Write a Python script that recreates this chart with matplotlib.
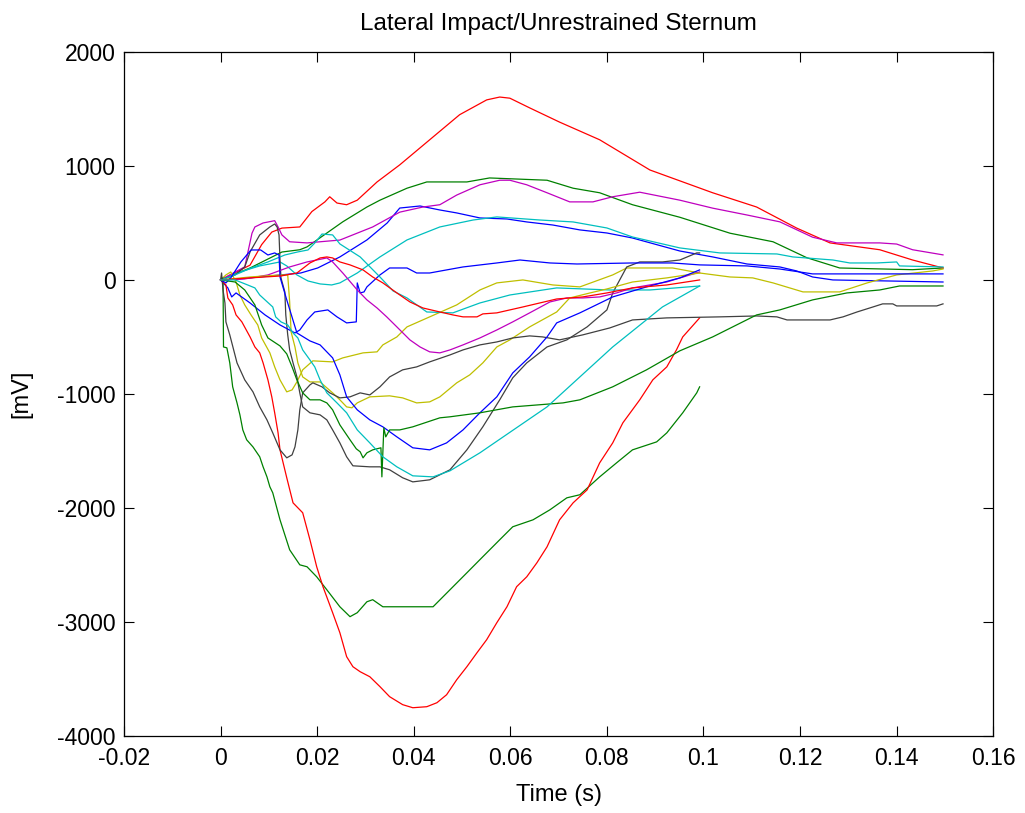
import matplotlib
matplotlib.use("Agg")
import matplotlib.pyplot as plt
from matplotlib.ticker import FixedLocator, FuncFormatter

plt.rcParams['font.family'] = ['Liberation Sans', 'DejaVu Sans']
plt.rcParams['axes.unicode_minus'] = False

# sternum accelerometer channels, time in s, signal in mV
t_blue_up = [0, 0.004, 0.0081, 0.0125, 0.0166, 0.0201, 0.0247, 0.0303, 0.0345, 0.0371, 0.0413,
             0.0454, 0.0489, 0.0537, 0.0593, 0.0634, 0.0688, 0.0744, 0.08, 0.0853, 0.0951, 0.1019,
             0.109, 0.1158, 0.1193, 0.1226, 0.1268, 0.1496]
v_blue_up = [0, 9, 26, 44, 61, 105, 202, 351, 500, 631, 649, 614, 588, 544, 535, 509, 482, 439,
             412, 368, 254, 202, 140, 114, 79, 26, 0, -18]

t_green_up = [0, 0.0061, 0.0127, 0.0164, 0.0179, 0.0206, 0.0253, 0.0303, 0.033, 0.0386, 0.0427,
              0.051, 0.0557, 0.0676, 0.073, 0.0785, 0.0853, 0.0951, 0.1055, 0.1144, 0.1214, 0.1282,
              0.1433, 0.1496]
v_green_up = [0, 105, 245, 265, 290, 370, 510, 640, 700, 805, 860, 860, 895, 875, 805, 765, 660,
              550, 410, 335, 195, 105, 90, 105]

t_red_up = [0, 0.0061, 0.0085, 0.0106, 0.0127, 0.0164, 0.0189, 0.0216, 0.0226, 0.0241, 0.0261,
            0.0283, 0.0324, 0.0371, 0.0433, 0.0495, 0.0551, 0.0578, 0.0599, 0.064, 0.0702, 0.0785,
            0.0889, 0.1019, 0.111, 0.1193, 0.1262, 0.1365, 0.1433, 0.1496]
v_red_up = [0, 130, 310, 420, 455, 465, 600, 685, 730, 675, 660, 700, 860, 1010, 1230, 1450, 1580,
            1605, 1595, 1510, 1385, 1230, 965, 765, 640, 455, 325, 265, 175, 105]

t_cyan_up = [0, 0.004, 0.0081, 0.0123, 0.0137, 0.0158, 0.0181, 0.0206, 0.023, 0.0247, 0.0283,
             0.033, 0.0386, 0.0454, 0.0523, 0.0572, 0.0661, 0.073, 0.08, 0.0853, 0.0951, 0.1034,
             0.1152, 0.1185, 0.1268, 0.1303, 0.1359, 0.14, 0.1406, 0.1496]
v_cyan_up = [0, 70, 123, 158, 123, 44, -9, -35, -44, -26, 61, 202, 351, 465, 526, 553, 526, 509,
             456, 377, 281, 237, 228, 202, 175, 149, 149, 158, 123, 114]

t_mag_up = [0, 0.005, 0.0065, 0.0071, 0.0088, 0.0112, 0.0119, 0.0127, 0.0143, 0.0179, 0.0206,
            0.0247, 0.0315, 0.0371, 0.0419, 0.0454, 0.0489, 0.0537, 0.0578, 0.0599, 0.0634, 0.0676,
            0.0723, 0.0771, 0.0812, 0.0868, 0.0951, 0.1019, 0.109, 0.1158, 0.1226, 0.1276, 0.1365,
            0.14, 0.1433, 0.1496]
v_mag_up = [0, 115, 410, 465, 500, 520, 465, 395, 335, 325, 335, 350, 465, 595, 640, 660, 745, 835,
            875, 875, 835, 765, 685, 685, 730, 770, 700, 630, 570, 510, 375, 325, 325, 315, 265, 220]

t_yel_1 = [0, 0.0011, 0.0021, 0.0032, 0.004, 0.005, 0.0063, 0.0077, 0.0085, 0.0102, 0.0112,
           0.0123, 0.0137, 0.0148, 0.0158, 0.017, 0.0191, 0.0232, 0.0253, 0.0295, 0.0324, 0.0336,
           0.0365, 0.0386, 0.0433, 0.0489, 0.0537, 0.0572, 0.0626, 0.0688, 0.0744, 0.0812, 0.0841,
           0.0936, 0.0992, 0.1055, 0.1102, 0.1144, 0.1206, 0.1282, 0.1339, 0.14, 0.1475, 0.1496]
v_yel_1 = [0, 44, 70, -18, -132, -219, -307, -395, -509, -640, -763, -877, -982, -965, -895, -789,
           -710, -719, -684, -640, -631, -570, -500, -412, -324, -219, -88, -26, 0, -44, -61, 44,
           105, 105, 61, 26, 18, -26, -105, -105, -26, 44, 79, 96]

t_gray_1 = [0, 0.003, 0.005, 0.0061, 0.0081, 0.0102, 0.0112, 0.0117, 0.0121, 0.0123, 0.0125,
            0.0133, 0.0135, 0.0139, 0.0143, 0.015, 0.0158, 0.0164, 0.017, 0.0185, 0.0206, 0.022,
            0.0232, 0.0247, 0.0261, 0.0274, 0.0309, 0.033, 0.035, 0.0377, 0.0398, 0.0433, 0.0475,
            0.051, 0.0543, 0.0578, 0.0605, 0.0634, 0.0676, 0.0717, 0.0759, 0.08, 0.0812, 0.0841,
            0.0868, 0.0915, 0.0951, 0.0986, 0.0992]
v_gray_1 = [0, 44, 114, 246, 395, 465, 491, 465, 395, 175, 18, -105, -307, -482, -614, -728, -851,
            -991, -1114, -1166, -1184, -1228, -1316, -1430, -1552, -1631, -1640, -1640, -1666,
            -1736, -1772, -1754, -1666, -1491, -1289, -1052, -859, -728, -588, -526, -412, -263,
            -114, 114, 158, 158, 175, 237, 237]

t_blue_mid = [0, 0.0015, 0.0023, 0.0032, 0.0061, 0.0092, 0.0123, 0.0154, 0.0164, 0.0179, 0.0195,
              0.0222, 0.0241, 0.0261, 0.0281, 0.0283, 0.0289, 0.0297, 0.0303, 0.033, 0.035, 0.0386,
              0.0406, 0.0433, 0.0468, 0.0502, 0.0572, 0.062, 0.0682, 0.0738, 0.0853, 0.0936,
              0.0992, 0.109, 0.1158, 0.1226, 0.1496]
v_blue_mid = [0, -70, -149, -114, -202, -307, -395, -465, -439, -351, -281, -263, -324, -377, -368,
              -26, -114, -105, -61, 44, 105, 105, 61, 61, 88, 114, 149, 175, 149, 140, 149, 149,
              132, 123, 96, 53, 53]

t_green_deep = [0, 0.0005, 0.0006, 0.0013, 0.0019, 0.0025, 0.0034, 0.004, 0.0046, 0.0054, 0.0067,
                0.0081, 0.0088, 0.0096, 0.0102, 0.0108, 0.0123, 0.0143, 0.0164, 0.0179, 0.0199,
                0.022, 0.0247, 0.0268, 0.0283, 0.0303, 0.0315, 0.0336, 0.044, 0.0475, 0.051,
                0.0543, 0.0578, 0.0605, 0.0647, 0.0682, 0.0717, 0.0744, 0.0785, 0.082, 0.0853,
                0.0903, 0.0924, 0.0957, 0.0986, 0.0992]
v_green_deep = [0, 18, -588, -596, -728, -938, -1079, -1184, -1316, -1403, -1465, -1552, -1640,
                -1728, -1815, -1868, -2105, -2368, -2500, -2517, -2605, -2719, -2868, -2955, -2920,
                -2824, -2806, -2868, -2868, -2719, -2570, -2429, -2280, -2166, -2105, -2017, -1912,
                -1885, -1728, -1605, -1491, -1421, -1342, -1166, -991, -938]

t_red_deep = [0, 0.0011, 0.0015, 0.0025, 0.0032, 0.0044, 0.0061, 0.0071, 0.0081, 0.0088, 0.0098,
              0.0106, 0.0112, 0.0119, 0.0123, 0.0137, 0.015, 0.017, 0.0185, 0.0199, 0.0212,
              0.0232, 0.0247, 0.0261, 0.0274, 0.0289, 0.0309, 0.033, 0.035, 0.0377, 0.0398,
              0.0427, 0.0448, 0.0468, 0.0489, 0.051, 0.0531, 0.0551, 0.0572, 0.0593, 0.0613,
              0.0634, 0.0655, 0.0676, 0.0702, 0.073, 0.0759, 0.0785, 0.0812, 0.0833, 0.0868,
              0.0895, 0.0924, 0.0944, 0.0957, 0.0992]
v_red_deep = [0, -44, -158, -219, -307, -368, -500, -588, -640, -728, -877, -1026, -1166, -1342,
              -1491, -1736, -1956, -2043, -2280, -2517, -2692, -2920, -3096, -3306, -3394, -3438,
              -3482, -3569, -3657, -3727, -3754, -3745, -3710, -3640, -3508, -3394, -3271, -3157,
              -3008, -2868, -2692, -2605, -2482, -2342, -2105, -1956, -1842, -1605, -1430, -1254,
              -1052, -877, -763, -614, -500, -333]

t_cyan_mid = [0, 0.003, 0.0063, 0.0098, 0.0133, 0.016, 0.0181, 0.0195, 0.021, 0.0232, 0.0247,
              0.0289, 0.033, 0.0357, 0.0386, 0.0427, 0.0481, 0.0537, 0.0599, 0.0696, 0.0806,
              0.0889, 0.0992]
v_cyan_mid = [0, 44, 105, 158, 219, 246, 263, 324, 403, 395, 316, 202, 26, -96, -158, -281, -289,
              -202, -132, -70, -88, -88, -53]

t_mag_2 = [0, 0.005, 0.0098, 0.0143, 0.0179, 0.0199, 0.022, 0.0232, 0.0253, 0.0283, 0.0303,
           0.0324, 0.0344, 0.0365, 0.0392, 0.0413, 0.0433, 0.0454, 0.0475, 0.0502, 0.0537, 0.0572,
           0.0605, 0.064, 0.0682, 0.0717, 0.075, 0.0785, 0.082, 0.0853, 0.0924, 0.0992]
v_mag_2 = [0, 9, 44, 114, 158, 175, 193, 158, 61, -88, -175, -246, -324, -412, -526, -588, -631,
           -640, -614, -570, -509, -439, -368, -289, -193, -158, -158, -149, -114, -70, -18, 70]

t_yel_2 = [0, 0.0061, 0.0125, 0.0139, 0.0143, 0.0146, 0.0154, 0.016, 0.017, 0.0185, 0.0206,
           0.022, 0.0232, 0.0247, 0.0261, 0.0272, 0.0283, 0.0309, 0.035, 0.0377, 0.0406, 0.0433,
           0.0454, 0.0489, 0.0516, 0.0543, 0.0572, 0.0599, 0.064, 0.0696, 0.0723, 0.0765, 0.08,
           0.0853, 0.0924, 0.0992]
v_yel_2 = [0, 26, 44, 44, -193, -456, -588, -728, -851, -895, -895, -947, -991, -1052, -1114,
           -1122, -1079, -1026, -1017, -1035, -1079, -1070, -1026, -903, -833, -728, -588, -526,
           -412, -281, -158, -114, -79, -18, 18, 61]

t_gray_2 = [0, 0.0002, 0.0005, 0.0009, 0.0011, 0.0019, 0.0034, 0.005, 0.0067, 0.0081, 0.0096,
            0.0108, 0.0123, 0.0137, 0.0148, 0.0154, 0.016, 0.0164, 0.017, 0.0185, 0.0191, 0.021,
            0.0226, 0.0247, 0.0268, 0.0289, 0.0309, 0.033, 0.035, 0.0377, 0.0406, 0.0433, 0.0475,
            0.0502, 0.0537, 0.0572, 0.0605, 0.064, 0.0667, 0.0702, 0.075, 0.0806, 0.0853, 0.0924,
            0.1034, 0.111, 0.1152, 0.1173, 0.1262, 0.1289, 0.1318, 0.1351, 0.1371, 0.1392, 0.14,
            0.1483, 0.1496]
v_gray_2 = [0, 61, -88, -202, -368, -482, -728, -877, -982, -1114, -1228, -1342, -1491, -1561,
            -1535, -1465, -1316, -1140, -991, -921, -903, -938, -991, -1035, -1026, -991, -1009,
            -938, -851, -789, -763, -719, -658, -614, -570, -544, -509, -491, -500, -526, -482,
            -421, -351, -333, -324, -316, -324, -351, -351, -324, -281, -237, -210, -210, -228,
            -228, -210]

t_blue_low = [0, 0.0011, 0.0021, 0.0042, 0.0063, 0.0083, 0.0098, 0.0112, 0.0121, 0.0123, 0.0137,
              0.0158, 0.0185, 0.0206, 0.0232, 0.0247, 0.0261, 0.0283, 0.0309, 0.0336, 0.0365,
              0.0398, 0.0433, 0.0468, 0.0502, 0.0537, 0.0572, 0.0605, 0.064, 0.0676, 0.0696,
              0.0744, 0.0812, 0.0882, 0.0951, 0.0992]
v_blue_low = [0, -26, 18, 158, 263, 263, 219, 237, 219, 26, -175, -465, -535, -570, -684, -833,
              -1026, -1140, -1228, -1289, -1377, -1473, -1491, -1430, -1316, -1166, -1026, -816,
              -675, -500, -377, -289, -149, -61, 18, 88]

t_green_mid = [0, 0.003, 0.005, 0.0071, 0.0085, 0.0098, 0.0123, 0.0137, 0.0148, 0.0158, 0.017,
               0.0185, 0.0206, 0.022, 0.0232, 0.0247, 0.0268, 0.0281, 0.0289, 0.0295, 0.0303,
               0.0315, 0.0332, 0.0334, 0.0338, 0.0342, 0.035, 0.0371, 0.0398, 0.0454, 0.0475,
               0.0537, 0.0605, 0.0709, 0.0744, 0.0812, 0.0882, 0.0951, 0.1019, 0.111, 0.1158,
               0.1226, 0.1297, 0.1365, 0.1406, 0.1496]
v_green_mid = [0, -18, -88, -219, -395, -509, -579, -649, -763, -877, -991, -1052, -1052, -1079,
               -1140, -1272, -1403, -1482, -1508, -1561, -1517, -1491, -1473, -1728, -1298, -1377,
               -1316, -1316, -1289, -1210, -1201, -1166, -1114, -1079, -1052, -938, -789, -622,
               -500, -307, -263, -175, -114, -88, -53, -53]

t_red_mid = [0, 0.0061, 0.0125, 0.0158, 0.0185, 0.0206, 0.022, 0.0232, 0.0247, 0.0268, 0.0295,
             0.0315, 0.0336, 0.0365, 0.0392, 0.0419, 0.0454, 0.0481, 0.0502, 0.0531, 0.0543,
             0.0572, 0.0599, 0.0626, 0.0696, 0.075, 0.08, 0.0853, 0.0924, 0.0992]
v_red_mid = [0, 18, 35, 61, 149, 193, 202, 193, 158, 132, 88, 26, -26, -114, -193, -246, -281,
             -307, -324, -324, -298, -289, -263, -237, -167, -149, -114, -70, -44, 0]

t_cyan_deep = [0, 0.003, 0.0056, 0.0071, 0.0081, 0.0092, 0.0108, 0.0114, 0.0125, 0.0139, 0.015,
               0.016, 0.017, 0.0185, 0.0195, 0.0206, 0.022, 0.0241, 0.0261, 0.0283, 0.0309,
               0.0336, 0.0365, 0.0398, 0.044, 0.0475, 0.0537, 0.0676, 0.0812, 0.0915, 0.0992]
v_cyan_deep = [0, 0, -44, -70, -132, -175, -237, -324, -368, -395, -465, -509, -614, -702, -763,
               -877, -991, -1079, -1166, -1316, -1430, -1552, -1640, -1719, -1728, -1675, -1517,
               -1114, -588, -237, -53]

# old MATLAB colour order: b, g, r, c, m, y, k
col_b = (0, 0, 1)
col_g = (0, 0.5, 0)
col_r = (1, 0, 0)
col_c = (0, 0.75, 0.75)
col_m = (0.75, 0, 0.75)
col_y = (0.75, 0.75, 0)
col_k = (0.25, 0.25, 0.25)

channels = [
    (t_blue_up, v_blue_up, col_b),
    (t_green_up, v_green_up, col_g),
    (t_red_up, v_red_up, col_r),
    (t_cyan_up, v_cyan_up, col_c),
    (t_mag_up, v_mag_up, col_m),
    (t_yel_1, v_yel_1, col_y),
    (t_gray_1, v_gray_1, col_k),
    (t_blue_mid, v_blue_mid, col_b),
    (t_green_deep, v_green_deep, col_g),
    (t_red_deep, v_red_deep, col_r),
    (t_cyan_mid, v_cyan_mid, col_c),
    (t_mag_2, v_mag_2, col_m),
    (t_yel_2, v_yel_2, col_y),
    (t_gray_2, v_gray_2, col_k),
    (t_blue_low, v_blue_low, col_b),
    (t_green_mid, v_green_mid, col_g),
    (t_red_mid, v_red_mid, col_r),
    (t_cyan_deep, v_cyan_deep, col_c),
]

x_ticks = [-0.02, 0, 0.02, 0.04, 0.06, 0.08, 0.1, 0.12, 0.14, 0.16]
y_ticks = [-4000, -3000, -2000, -1000, 0, 1000, 2000]

fig = plt.figure(figsize=(10.25, 8.13), dpi=100)
ax = fig.add_axes([0.121, 0.095, 0.848, 0.841])

for t, v, c in channels:
    ax.plot(t, v, color=c, linewidth=0.9)

ax.set_xlim(-0.02, 0.16)
ax.set_ylim(-4000, 2000)
ax.xaxis.set_major_locator(FixedLocator(x_ticks))
ax.yaxis.set_major_locator(FixedLocator(y_ticks))
ax.xaxis.set_major_formatter(FuncFormatter(lambda x, p: '0' if abs(x) < 1e-9 else ('%g' % x)))
ax.yaxis.set_major_formatter(FuncFormatter(lambda y, p: '%d' % y))
ax.tick_params(direction='in', length=7, width=0.8, top=True, right=True, labelsize=16.5)
ax.tick_params(axis='x', pad=8)
ax.tick_params(axis='y', pad=6)
for s in ax.spines.values():
    s.set_linewidth(0.9)

ax.set_title('Lateral Impact/Unrestrained Sternum', fontsize=17.5, pad=16)
ax.set_xlabel('Time (s)', fontsize=17, labelpad=10)
ax.set_ylabel('[mV]', fontsize=17, labelpad=18)

fig.savefig('out.png', dpi=100)
